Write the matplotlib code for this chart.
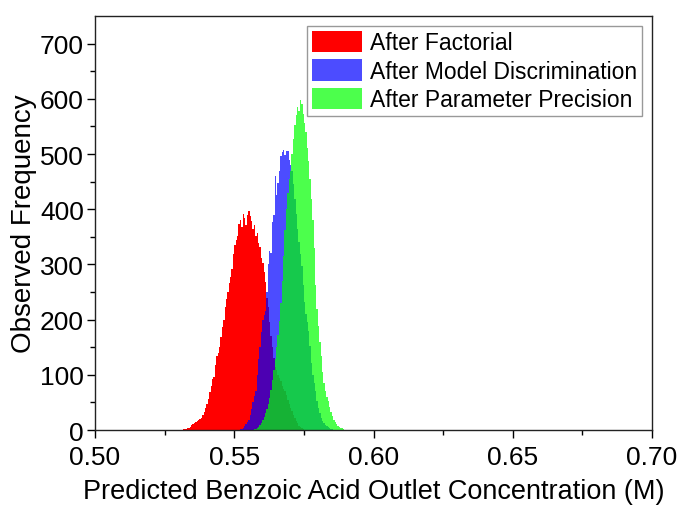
import numpy as np
import matplotlib
matplotlib.use("Agg")
import matplotlib.pyplot as plt
from matplotlib.patches import Patch

plt.rcParams['font.family'] = ['Liberation Sans', 'DejaVu Sans']

bin_width = 0.0005

labels = ["After Factorial", "After Model Discrimination", "After Parameter Precision"]

# Histogram bin counts, first bin left edge given by *_start
factorial_start = 0.5315
factorial_counts = [1, 1, 2, 3, 4, 6, 9, 11, 13, 14, 16, 18, 20, 22, 27, 33, 40, 47, 56, 68,
                    80, 92, 96, 118, 134, 140, 150, 168, 186, 199, 222, 237, 250, 266, 277, 292,
                    318, 336, 345, 352, 373, 380, 367, 392, 384, 371, 390, 396, 388, 378, 364,
                    372, 351, 357, 338, 331, 311, 302, 286, 268, 240, 222, 195, 170, 150, 130,
                    115, 108, 100, 95, 88, 80, 74, 70, 64, 55, 48, 40, 34, 28, 22, 17, 12, 8, 5,
                    3, 1]

discrimination_start = 0.5520
discrimination_counts = [1, 2, 4, 8, 11, 15, 19, 27, 38, 50, 61, 70, 100, 128, 150, 178, 200, 208,
                         215, 250, 300, 325, 320, 376, 390, 460, 425, 448, 470, 496, 503, 508,
                         498, 506, 505, 490, 480, 470, 445, 418, 392, 365, 340, 318, 297, 262,
                         231, 210, 195, 180, 152, 122, 100, 85, 70, 52, 40, 30, 22, 16, 12, 9, 7,
                         5, 4, 2, 1]

precision_start = 0.5570
precision_counts = [1, 2, 4, 6, 9, 13, 18, 24, 30, 38, 48, 58, 72, 90, 108, 128, 150, 172, 198,
                    230, 270, 315, 362, 400, 430, 455, 470, 500, 528, 552, 570, 585, 578, 597,
                    590, 572, 557, 540, 510, 488, 454, 418, 380, 330, 262, 220, 188, 160, 134,
                    105, 85, 70, 60, 52, 42, 32, 25, 19, 14, 10, 8, 6, 4, 3, 1]

xticks = [0.50, 0.55, 0.60, 0.65, 0.70]
yticks = [0, 100, 200, 300, 400, 500, 600, 700]

colors = ["#ff0000", "#0000ff", "#00ff00"]
alphas = [1.0, 0.7, 0.7]

fig = plt.figure(figsize=(6.81, 5.06), dpi=100)
ax = fig.add_axes([0.1395, 0.1482, 0.818, 0.8182])

series = [(factorial_start, factorial_counts), (discrimination_start, discrimination_counts),
          (precision_start, precision_counts)]
for (start, counts), c, a in zip(series, colors, alphas):
    counts = np.asarray(counts, dtype=float)
    edges = start + bin_width * np.arange(len(counts) + 1)
    ax.stairs(counts, edges, fill=True, color=c, alpha=a, linewidth=0)

ax.set_xlim(0.50, 0.70)
ax.set_ylim(0, 750)
ax.set_xticks(xticks)
ax.set_xticklabels([f"{v:.2f}" for v in xticks])
ax.set_yticks(yticks)
ax.set_xticks(np.arange(0.525, 0.70, 0.05), minor=True)
ax.set_yticks(np.arange(50, 750, 100), minor=True)
ax.tick_params(axis='both', which='major', direction='out', length=6, width=1,
               labelsize=19, top=False, right=False)
ax.tick_params(axis='x', which='major', pad=5)
ax.tick_params(axis='y', which='major', pad=2)
ax.tick_params(axis='both', which='minor', direction='out', length=3.5, width=1,
               top=False, right=False)
for s in ax.spines.values():
    s.set_linewidth(1.0)
    s.set_color('#222222')

ax.set_xlabel("Predicted Benzoic Acid Outlet Concentration (M)", fontsize=19.5, labelpad=6)
ax.set_ylabel("Observed Frequency", fontsize=20, labelpad=2)

handles = [Patch(facecolor=c, alpha=a, edgecolor='none') for c, a in zip(colors, alphas)]
leg = ax.legend(handles, labels, loc='upper right', fontsize=16.5, frameon=True,
                fancybox=False, edgecolor='#999999', framealpha=1, handlelength=2.2,
                handleheight=1.05, handletextpad=0.35, labelspacing=0.22, borderpad=0.2,
                borderaxespad=0.45)
leg.get_frame().set_linewidth(1.0)

fig.savefig("out.png", dpi=100)
